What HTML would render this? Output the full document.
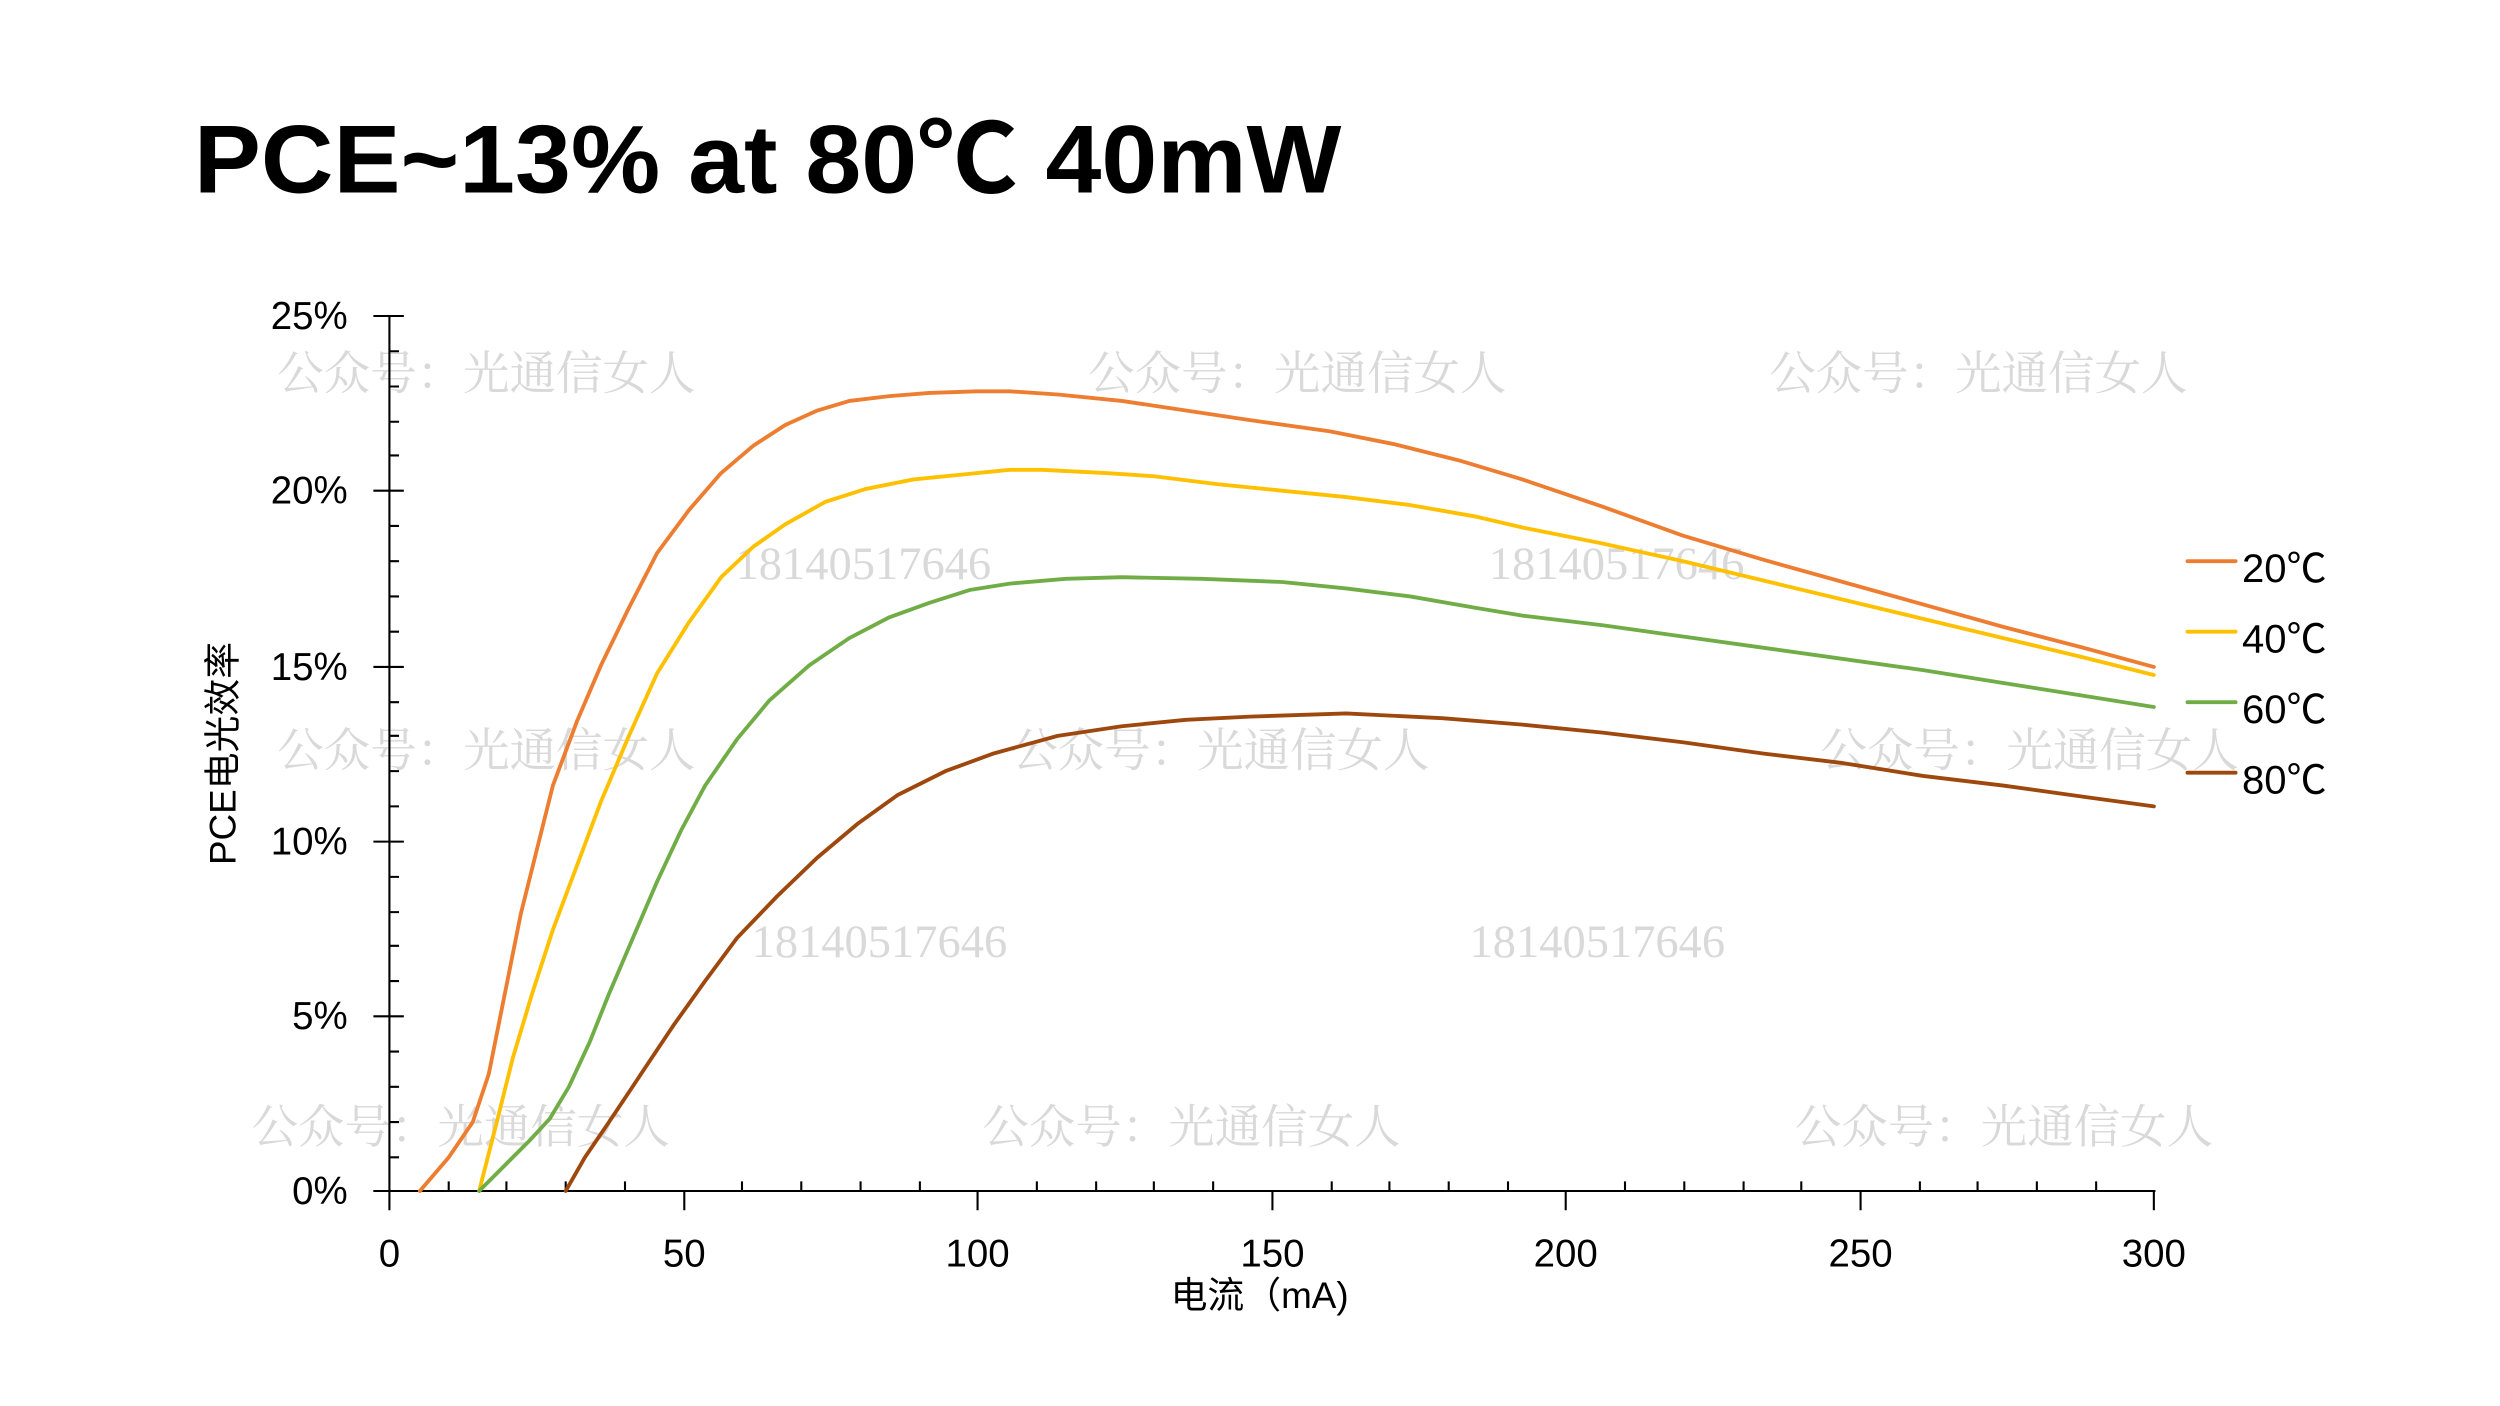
<!DOCTYPE html>
<html><head><meta charset="utf-8"><style>
html,body{margin:0;padding:0;background:#fff;}
svg{display:block;}
text{font-family:"Liberation Sans","Noto Sans CJK SC",sans-serif;}
.wm text{font-family:"Liberation Serif","Noto Serif CJK SC",serif;fill:#d9d9d9;font-size:29px;}
</style></head><body>
<svg width="2500" height="1406" viewBox="0 0 1560 877" xmlns="http://www.w3.org/2000/svg">
<rect width="1560" height="877" fill="#fff"/>
<text x="121" y="120" font-size="60" font-weight="bold" textLength="716" lengthAdjust="spacingAndGlyphs">PCE~13% at 80℃ 40mW</text>

<g class="wm">
<text x="173" y="243">公众号：光通信女人</text>
<text x="679" y="243">公众号：光通信女人</text>
<text x="1104" y="243">公众号：光通信女人</text>
<text x="173" y="478">公众号：光通信女人</text>
<text x="631" y="478">公众号：光通信女人</text>
<text x="1136" y="478">公众号：光通信女人</text>
<text x="157" y="713">公众号：光通信女人</text>
<text x="613" y="713">公众号：光通信女人</text>
<text x="1120" y="713">公众号：光通信女人</text>
<text x="459" y="361">18140517646</text>
<text x="929" y="361">18140517646</text>
<text x="469" y="597">18140517646</text>
<text x="917" y="597">18140517646</text>
</g>

<g stroke="#000" stroke-width="1.3" fill="none">
<line x1="243" y1="197" x2="243" y2="755"/>
<line x1="233" y1="743" x2="1345" y2="743"/>
<path d="M233 197H252M233 306H252M233 416H252M233 525H252M233 634H252M233 743H252"/>
<path d="M243 219H249M243 241H249M243 263H249M243 284H249M243 328H249M243 350H249M243 372H249M243 394H249M243 438H249M243 459H249M243 481H249M243 503H249M243 547H249M243 569H249M243 590H249M243 612H249M243 656H249M243 678H249M243 700H249M243 722H249"/>
<path d="M427 743V755M610 743V755M794 743V755M977 743V755M1161 743V755M1344 743V755"/>
<path d="M280 743V737M316 743V737M353 743V737M390 743V737M463 743V737M500 743V737M537 743V737M574 743V737M647 743V737M684 743V737M720 743V737M757 743V737M831 743V737M867 743V737M904 743V737M941 743V737M1014 743V737M1051 743V737M1088 743V737M1124 743V737M1198 743V737M1234 743V737M1271 743V737M1308 743V737"/>
</g>

<g font-size="24" text-anchor="end">
<text x="217" y="205">25%</text>
<text x="217" y="314">20%</text>
<text x="217" y="424">15%</text>
<text x="217" y="533">10%</text>
<text x="217" y="642">5%</text>
<text x="217" y="751">0%</text>
</g>
<g font-size="24" text-anchor="middle">
<text x="243" y="790">0</text>
<text x="427" y="790">50</text>
<text x="610" y="790">100</text>
<text x="794" y="790">150</text>
<text x="977" y="790">200</text>
<text x="1161" y="790">250</text>
<text x="1344" y="790">300</text>
<text x="786" y="816" font-size="23">电流（mA)</text>
</g>
<text transform="translate(147,470) rotate(-90)" font-size="23" text-anchor="middle">PCE电光效率</text>

<g fill="none" stroke-width="2.4" stroke-linejoin="round" stroke-linecap="round">
<polyline stroke="#ed7d31" points="262,743 280,722 295,700 305,670 315,620 325,570 345,490 360,450 375,415 392,380 410,345 430,318 450,295 470,278 490,265 510,256 530,250 555,247 580,245 610,244 630,244 660,246 700,250 740,256 780,262 830,269 870,277 910,287 950,299 1000,316 1050,334 1100,349 1150,363 1200,377 1250,391 1300,404 1344,416"/>
<polyline stroke="#ffc000" points="299,743 310,700 320,660 332,620 345,580 360,540 375,500 392,460 410,420 430,388 450,360 470,341 490,327 515,313 540,305 570,299 600,296 630,293 650,293 690,295 720,297 760,302 800,306 840,310 880,315 920,322 950,329 1000,339 1050,350 1100,362 1150,374 1200,386 1250,398 1300,410 1344,421"/>
<polyline stroke="#70ad47" points="299,743 315,727 330,712 343,698 355,678 368,650 380,620 395,585 410,550 425,518 440,490 460,461 480,437 505,415 530,398 555,385 580,376 605,368 630,364 665,361 700,360 750,361 800,363 840,367 880,372 920,379 950,384 1000,390 1050,397 1100,404 1150,411 1200,418 1250,426 1300,434 1344,441"/>
<polyline stroke="#9e480e" points="353,743 365,722 380,700 400,670 420,640 440,612 460,585 485,559 510,535 535,514 560,496 590,481 620,470 660,459 700,453 740,449 780,447 840,445 900,448 950,452 1000,457 1050,463 1100,470 1150,476 1200,484 1250,490 1300,497 1344,503"/>
</g>

<g stroke-width="2.4" stroke-linecap="round">
<line x1="1365" y1="350" x2="1395" y2="350" stroke="#ed7d31"/>
<line x1="1365" y1="394" x2="1395" y2="394" stroke="#ffc000"/>
<line x1="1365" y1="438" x2="1395" y2="438" stroke="#70ad47"/>
<line x1="1365" y1="482" x2="1395" y2="482" stroke="#9e480e"/>
</g>
<g font-size="25">
<text x="1399" y="363">20℃</text>
<text x="1399" y="407">40℃</text>
<text x="1399" y="451">60℃</text>
<text x="1399" y="495">80℃</text>
</g>
</svg>
</body></html>
